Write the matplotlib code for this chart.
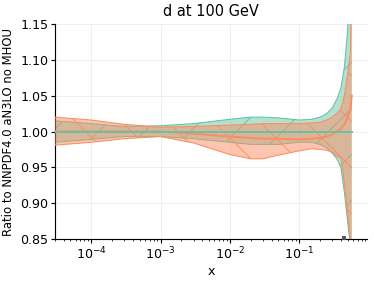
"""
d at 100 GeV: ratio of two PDF bands to NNPDF4.0 aN3LO no MHOU.
"""

import numpy as np
import matplotlib
matplotlib.use("Agg")
import matplotlib.pyplot as plt


# x grid
x_vals = [3e-5, 1e-4, 3e-4, 1e-3, 3e-3, 1e-2, 2e-2, 3e-2, 5e-2, 0.1,
          0.15, 0.2, 0.25, 0.3, 0.35, 0.4, 0.45, 0.5, 0.55, 0.575]

# reference band (green)
ref_central = [1.0] * 20
ref_upper = [1.015, 1.011, 1.007, 1.008, 1.011, 1.017, 1.020, 1.020, 1.019, 1.016,
             1.017, 1.020, 1.025, 1.033, 1.045, 1.060, 1.090, 1.140, 1.220, 1.250]
ref_lower = [0.985, 0.989, 0.993, 0.993, 0.990, 0.985, 0.982, 0.982, 0.982, 0.985,
             0.985, 0.982, 0.977, 0.970, 0.962, 0.950, 0.915, 0.875, 0.840, 0.820]

# second fit (orange)
fit_central = [1.0, 1.0, 1.0, 1.0, 0.997, 0.993, 0.991, 0.990, 0.990, 0.989,
               0.990, 0.991, 0.993, 0.996, 1.000, 1.004, 1.010, 1.020, 1.030, 1.050]
fit_upper = [1.020, 1.016, 1.010, 1.006, 1.007, 1.009, 1.010, 1.011, 1.011, 1.011,
             1.012, 1.013, 1.016, 1.020, 1.025, 1.032, 1.050, 1.080, 1.110, 1.300]
fit_lower = [0.981, 0.985, 0.990, 0.993, 0.984, 0.968, 0.962, 0.962, 0.967, 0.973,
             0.976, 0.975, 0.974, 0.971, 0.966, 0.963, 0.928, 0.885, 0.850, 0.700]

marker_x = [0.44]
marker_y = [0.851]

y_ticks = [0.85, 0.90, 0.95, 1.00, 1.05, 1.10, 1.15]

GREEN = "#66c2a5"
ORANGE = "#fc8d62"
DPI = 138


def draw_band(ax, x, low, up, color, hatch, zorder):
    ax.fill_between(x, low, up, color=color, alpha=0.5, linewidth=0, zorder=zorder)
    ax.fill_between(x, low, up, facecolor="none", edgecolor=color, alpha=0.8,
                    hatch=hatch, linewidth=0, zorder=zorder)
    ax.plot(x, up, color=color, linewidth=0.55, zorder=zorder)
    ax.plot(x, low, color=color, linewidth=0.55, zorder=zorder)


def main():
    plt.rcParams["hatch.linewidth"] = 0.6
    fig = plt.figure(figsize=(374 / DPI, 281 / DPI), dpi=DPI)
    ax = fig.add_axes([0.147, 0.149, 0.834, 0.766])

    x = np.array(x_vals)
    draw_band(ax, x, ref_lower, ref_upper, GREEN, "/", 2)
    draw_band(ax, x, fit_lower, fit_upper, ORANGE, "\\", 3)
    ax.plot(x, fit_central, color=ORANGE, linewidth=1.0, zorder=4)
    ax.plot(x, ref_central, color=GREEN, linewidth=1.0, zorder=5)
    ax.plot(marker_x, marker_y, "s", color="#555555", markersize=1.2, zorder=6)

    ax.set_xscale("log")
    ax.set_xlim(3e-5, 0.95)
    ax.set_ylim(0.85, 1.15)
    ax.set_yticks(y_ticks)
    ax.set_yticklabels([f"{v:.2f}" for v in y_ticks])

    ax.grid(True, which="major", color="#ebebeb", linewidth=0.4)
    ax.set_axisbelow(True)
    for side in ("top", "right"):
        ax.spines[side].set_visible(False)
    for side in ("left", "bottom"):
        ax.spines[side].set_linewidth(0.6)

    ax.tick_params(which="major", length=2, width=0.6, labelsize=6.6, pad=1.5)
    ax.tick_params(which="minor", length=1.2, width=0.4)

    ax.set_title("d at 100 GeV", fontsize=7.6, pad=4)
    ax.set_xlabel("x", fontsize=6.6, labelpad=1.5)
    ax.set_ylabel("Ratio to NNPDF4.0 aN3LO no MHOU", fontsize=6.1, labelpad=3)

    fig.savefig("out.png", dpi=DPI)
    plt.close(fig)


if __name__ == "__main__":
    main()
